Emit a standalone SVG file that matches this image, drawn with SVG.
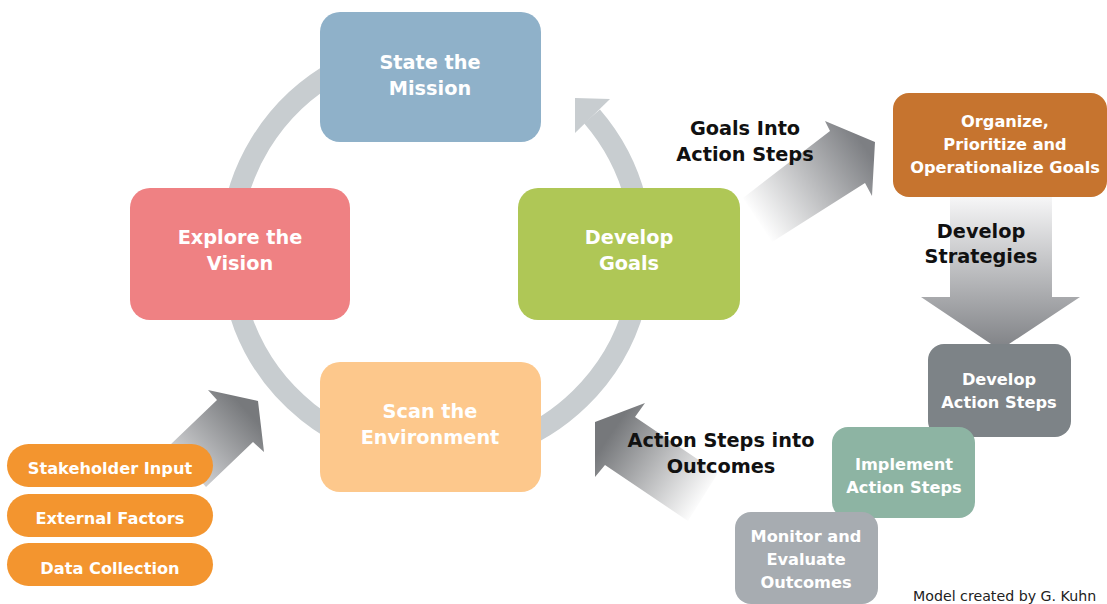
<svg xmlns="http://www.w3.org/2000/svg" width="1107" height="604" viewBox="0 0 1107 604">
<style>
.big{font-family:"DejaVu Sans",Verdana,sans-serif;font-weight:bold;font-size:19.3px;fill:#ffffff;text-anchor:middle}
.sm{font-family:"DejaVu Sans",Verdana,sans-serif;font-weight:bold;font-size:16.2px;fill:#ffffff;text-anchor:middle}
.lbl{font-family:"DejaVu Sans",Verdana,sans-serif;font-weight:bold;font-size:19.3px;fill:#111111;text-anchor:middle}
.note{font-family:"DejaVu Sans",Verdana,sans-serif;font-size:14.2px;fill:#222222}
.ring{fill:none;stroke:#c8cdd0;stroke-width:21}
</style>
<defs>
<linearGradient id="g1" gradientUnits="userSpaceOnUse" x1="760" y1="226" x2="868" y2="152"><stop offset="0" stop-color="#ffffff"/><stop offset="1" stop-color="#7d7f83"/></linearGradient>
<linearGradient id="g2" gradientUnits="userSpaceOnUse" x1="0" y1="197" x2="0" y2="350"><stop offset="0" stop-color="#f6f6f7"/><stop offset="1" stop-color="#7f8185"/></linearGradient>
<linearGradient id="g3" gradientUnits="userSpaceOnUse" x1="705" y1="500" x2="610" y2="435"><stop offset="0" stop-color="#ffffff"/><stop offset="1" stop-color="#76787b"/></linearGradient>
<linearGradient id="g4" gradientUnits="userSpaceOnUse" x1="185" y1="470" x2="248" y2="412"><stop offset="0" stop-color="#d3d4d6"/><stop offset="1" stop-color="#77797c"/></linearGradient>
</defs>
<rect width="1107" height="604" fill="#ffffff"/>
<g id="connectors">
<path class="ring" d="M 592 116.4 A 206 206 0 1 1 532.7 69.1"/>
<polygon points="575,98 610,99 575,133" fill="#c8cdd0"/>
<polygon points="743,198 830,131 825,121 875,142 872,196 865,183 772,242" fill="url(#g1)"/>
<polygon points="950,197 1052,197 1052,297 1080,297 1000,350 921,297 950,297" fill="url(#g2)"/>
<polygon points="595,422 645,403 635,417 718,473 688,521 605,465 595,477" fill="url(#g3)"/>
<polygon points="258,401 264,452 253,442 206,487 170,445 217,400 208,390" fill="url(#g4)"/>
</g>
<g id="mission"><rect x="320" y="12" width="221" height="130" rx="20" fill="#8fb1c9"/><text class="big" x="430" y="69">State the</text><text class="big" x="430" y="95">Mission</text></g>
<g id="vision"><rect x="130" y="188" width="220" height="132" rx="20" fill="#ef8183"/><text class="big" x="240" y="244">Explore the</text><text class="big" x="240" y="270">Vision</text></g>
<g id="goals"><rect x="518" y="188" width="222" height="132" rx="20" fill="#afc756"/><text class="big" x="629" y="244">Develop</text><text class="big" x="629" y="270">Goals</text></g>
<g id="scan"><rect x="320" y="362" width="221" height="130" rx="20" fill="#fdc88c"/><text class="big" x="430" y="418">Scan the</text><text class="big" x="430" y="444">Environment</text></g>
<g id="organize"><rect x="893" y="93" width="214" height="104" rx="16" fill="#c6742f"/><text class="sm" x="1005" y="127">Organize,</text><text class="sm" x="1005" y="150">Prioritize and</text><text class="sm" x="1005" y="173">Operationalize Goals</text></g>
<g id="action-steps"><rect x="928" y="344" width="143" height="93" rx="16" fill="#7d8387"/><text class="sm" x="999" y="385">Develop</text><text class="sm" x="999" y="408">Action Steps</text></g>
<g id="implement"><rect x="832" y="427" width="143" height="91" rx="16" fill="#8db4a3"/><text class="sm" x="904" y="470">Implement</text><text class="sm" x="904" y="493">Action Steps</text></g>
<g id="monitor"><rect x="735" y="512" width="143" height="92" rx="16" fill="#a7acb1"/><text class="sm" x="806" y="542">Monitor and</text><text class="sm" x="806" y="565">Evaluate</text><text class="sm" x="806" y="588">Outcomes</text></g>
<g id="stakeholder"><rect x="7" y="444" width="206" height="43" rx="21.5" fill="#f3952f"/><text class="sm" x="110" y="474">Stakeholder Input</text></g>
<g id="external"><rect x="7" y="494" width="206" height="43" rx="21.5" fill="#f3952f"/><text class="sm" x="110" y="524">External Factors</text></g>
<g id="data"><rect x="7" y="543" width="206" height="43" rx="21.5" fill="#f3952f"/><text class="sm" x="110" y="574">Data Collection</text></g>
<g id="labels">
<text class="lbl" x="745" y="135">Goals Into</text><text class="lbl" x="745" y="161">Action Steps</text>
<text class="lbl" x="981" y="238">Develop</text><text class="lbl" x="981" y="263">Strategies</text>
<text class="lbl" x="721" y="447">Action Steps into</text><text class="lbl" x="721" y="473">Outcomes</text>
<text class="note" x="913" y="601">Model created by G. Kuhn</text>
</g>
</svg>
